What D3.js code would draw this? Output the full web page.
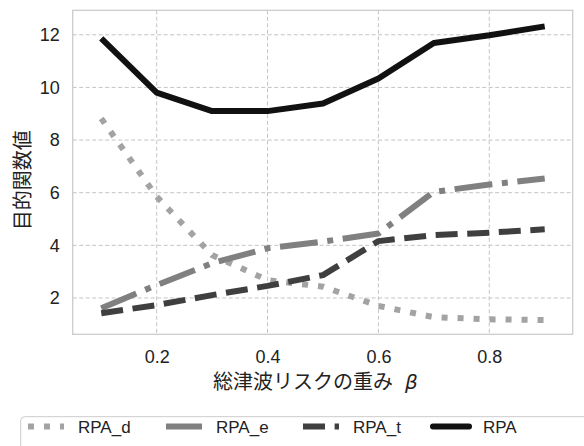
<!DOCTYPE html>
<html>
<head>
<meta charset="utf-8">
<script src="https://cdn.jsdelivr.net/npm/d3@7"></script>
<style>
  body { margin: 0; background: #fff; }
  svg { font-family: "Liberation Sans", Arial, "Noto Sans CJK JP", sans-serif; }
</style>
</head>
<body>
<div id="chart"></div>
<script>
const betas = [0.1, 0.2, 0.3, 0.4, 0.5, 0.6, 0.7, 0.8, 0.9];
const rpaD = [8.82, 5.85, 3.63, 2.68, 2.43, 1.70, 1.27, 1.19, 1.16];
const rpaE = [1.61, 2.49, 3.32, 3.89, 4.14, 4.45, 6.03, 6.31, 6.54];
const rpaT = [1.42, 1.73, 2.11, 2.46, 2.87, 4.16, 4.39, 4.48, 4.61];
const rpa = [11.86, 9.80, 9.10, 9.10, 9.39, 10.34, 11.69, 11.98, 12.32];
const seriesNames = ["RPA_d", "RPA_e", "RPA_t", "RPA"];
const xTicks = [0.2, 0.4, 0.6, 0.8];
const yTicks = [2, 4, 6, 8, 10, 12];

const series = [
  { name: seriesNames[0], values: rpaD, color: "#a3a3a3", dash: "6,10" },
  { name: seriesNames[1], values: rpaE, color: "#808080", dash: "38,9.6,6,9.6" },
  { name: seriesNames[2], values: rpaT, color: "#3f3f3f", dash: "22,9.6" },
  { name: seriesNames[3], values: rpa, color: "#111111", dash: null },
];

const W = 584, H = 446;
const margin = { top: 10.3, left: 72.7 };
const width = 500, height = 324;

const svg = d3.select("#chart").append("svg")
  .attr("width", W).attr("height", H);

const g = svg.append("g")
  .attr("transform", `translate(${margin.left},${margin.top})`);

const x = d3.scaleLinear().domain([0.0485, 0.9505]).range([0, width]);
const y = d3.scaleLinear().domain([0.62, 12.93]).range([height, 0]);

// grid
g.selectAll(".gx").data(xTicks).enter().append("line")
  .attr("x1", d => x(d)).attr("x2", d => x(d))
  .attr("y1", 0).attr("y2", height)
  .attr("stroke", "#c4c4c4").attr("stroke-width", 1)
  .attr("stroke-dasharray", "4,2.5");
g.selectAll(".gy").data(yTicks).enter().append("line")
  .attr("y1", d => y(d)).attr("y2", d => y(d))
  .attr("x1", 0).attr("x2", width)
  .attr("stroke", "#c4c4c4").attr("stroke-width", 1)
  .attr("stroke-dasharray", "4,2.5");

// axes (labels only, no tick marks)
const xAxis = g.append("g")
  .attr("transform", `translate(0,${height})`)
  .call(d3.axisBottom(x).tickValues(xTicks).tickSize(0).tickPadding(16).tickFormat(d3.format(".1f")));
const yAxis = g.append("g")
  .call(d3.axisLeft(y).tickValues(yTicks).tickSize(0).tickPadding(13).tickFormat(d3.format("d")));
[xAxis, yAxis].forEach(a => {
  a.select(".domain").remove();
  a.selectAll("text").attr("font-size", 18).attr("fill", "#222")
    .attr("font-family", "Liberation Sans, Arial, sans-serif");
});

// lines
const line = d3.line().x((d, i) => x(betas[i])).y(d => y(d));
series.forEach(s => {
  g.append("path")
    .datum(s.values)
    .attr("d", line)
    .attr("fill", "none")
    .attr("stroke", s.color)
    .attr("stroke-width", 6)
    .attr("stroke-linejoin", "round")
    .attr("stroke-linecap", "butt")
    .attr("stroke-dasharray", s.dash);
});

// frame
g.append("rect")
  .attr("width", width).attr("height", height)
  .attr("fill", "none").attr("stroke", "#cccccc").attr("stroke-width", 1.3);

// axis titles
const xTitle = svg.append("text")
  .attr("x", 213).attr("y", 389)
  .attr("font-size", 20).attr("fill", "#222")
  .attr("font-family", "Noto Sans CJK JP, sans-serif")
  .text("総津波リスクの重み");
xTitle.append("tspan").attr("dx", 12)
  .attr("font-family", "DejaVu Sans").attr("font-style", "italic").text("β");

svg.append("text")
  .attr("transform", `translate(30,${margin.top + 170}) rotate(-90)`)
  .attr("text-anchor", "middle").attr("font-size", 20).attr("fill", "#222")
  .attr("font-family", "Noto Sans CJK JP, sans-serif")
  .text("目的関数値");

// legend
const legend = svg.append("g");
legend.append("rect")
  .attr("x", 20.7).attr("y", 416.7).attr("width", 600).attr("height", 60)
  .attr("rx", 4).attr("fill", "#fff").attr("stroke", "#cccccc").attr("stroke-width", 1);
const legendX = [28, 166, 303, 433];
series.forEach((s, i) => {
  legend.append("line")
    .attr("x1", legendX[i]).attr("x2", legendX[i] + 36)
    .attr("y1", 426.5).attr("y2", 426.5)
    .attr("stroke", s.color).attr("stroke-width", 6)
    .attr("stroke-dasharray", i === 1 ? null : s.dash)
    .attr("stroke-linecap", i === 3 ? "round" : "butt");
  legend.append("text")
    .attr("x", legendX[i] + 50).attr("y", 432.5)
    .attr("font-size", 17).attr("fill", "#222")
    .text(s.name);
});
</script>
</body>
</html>
